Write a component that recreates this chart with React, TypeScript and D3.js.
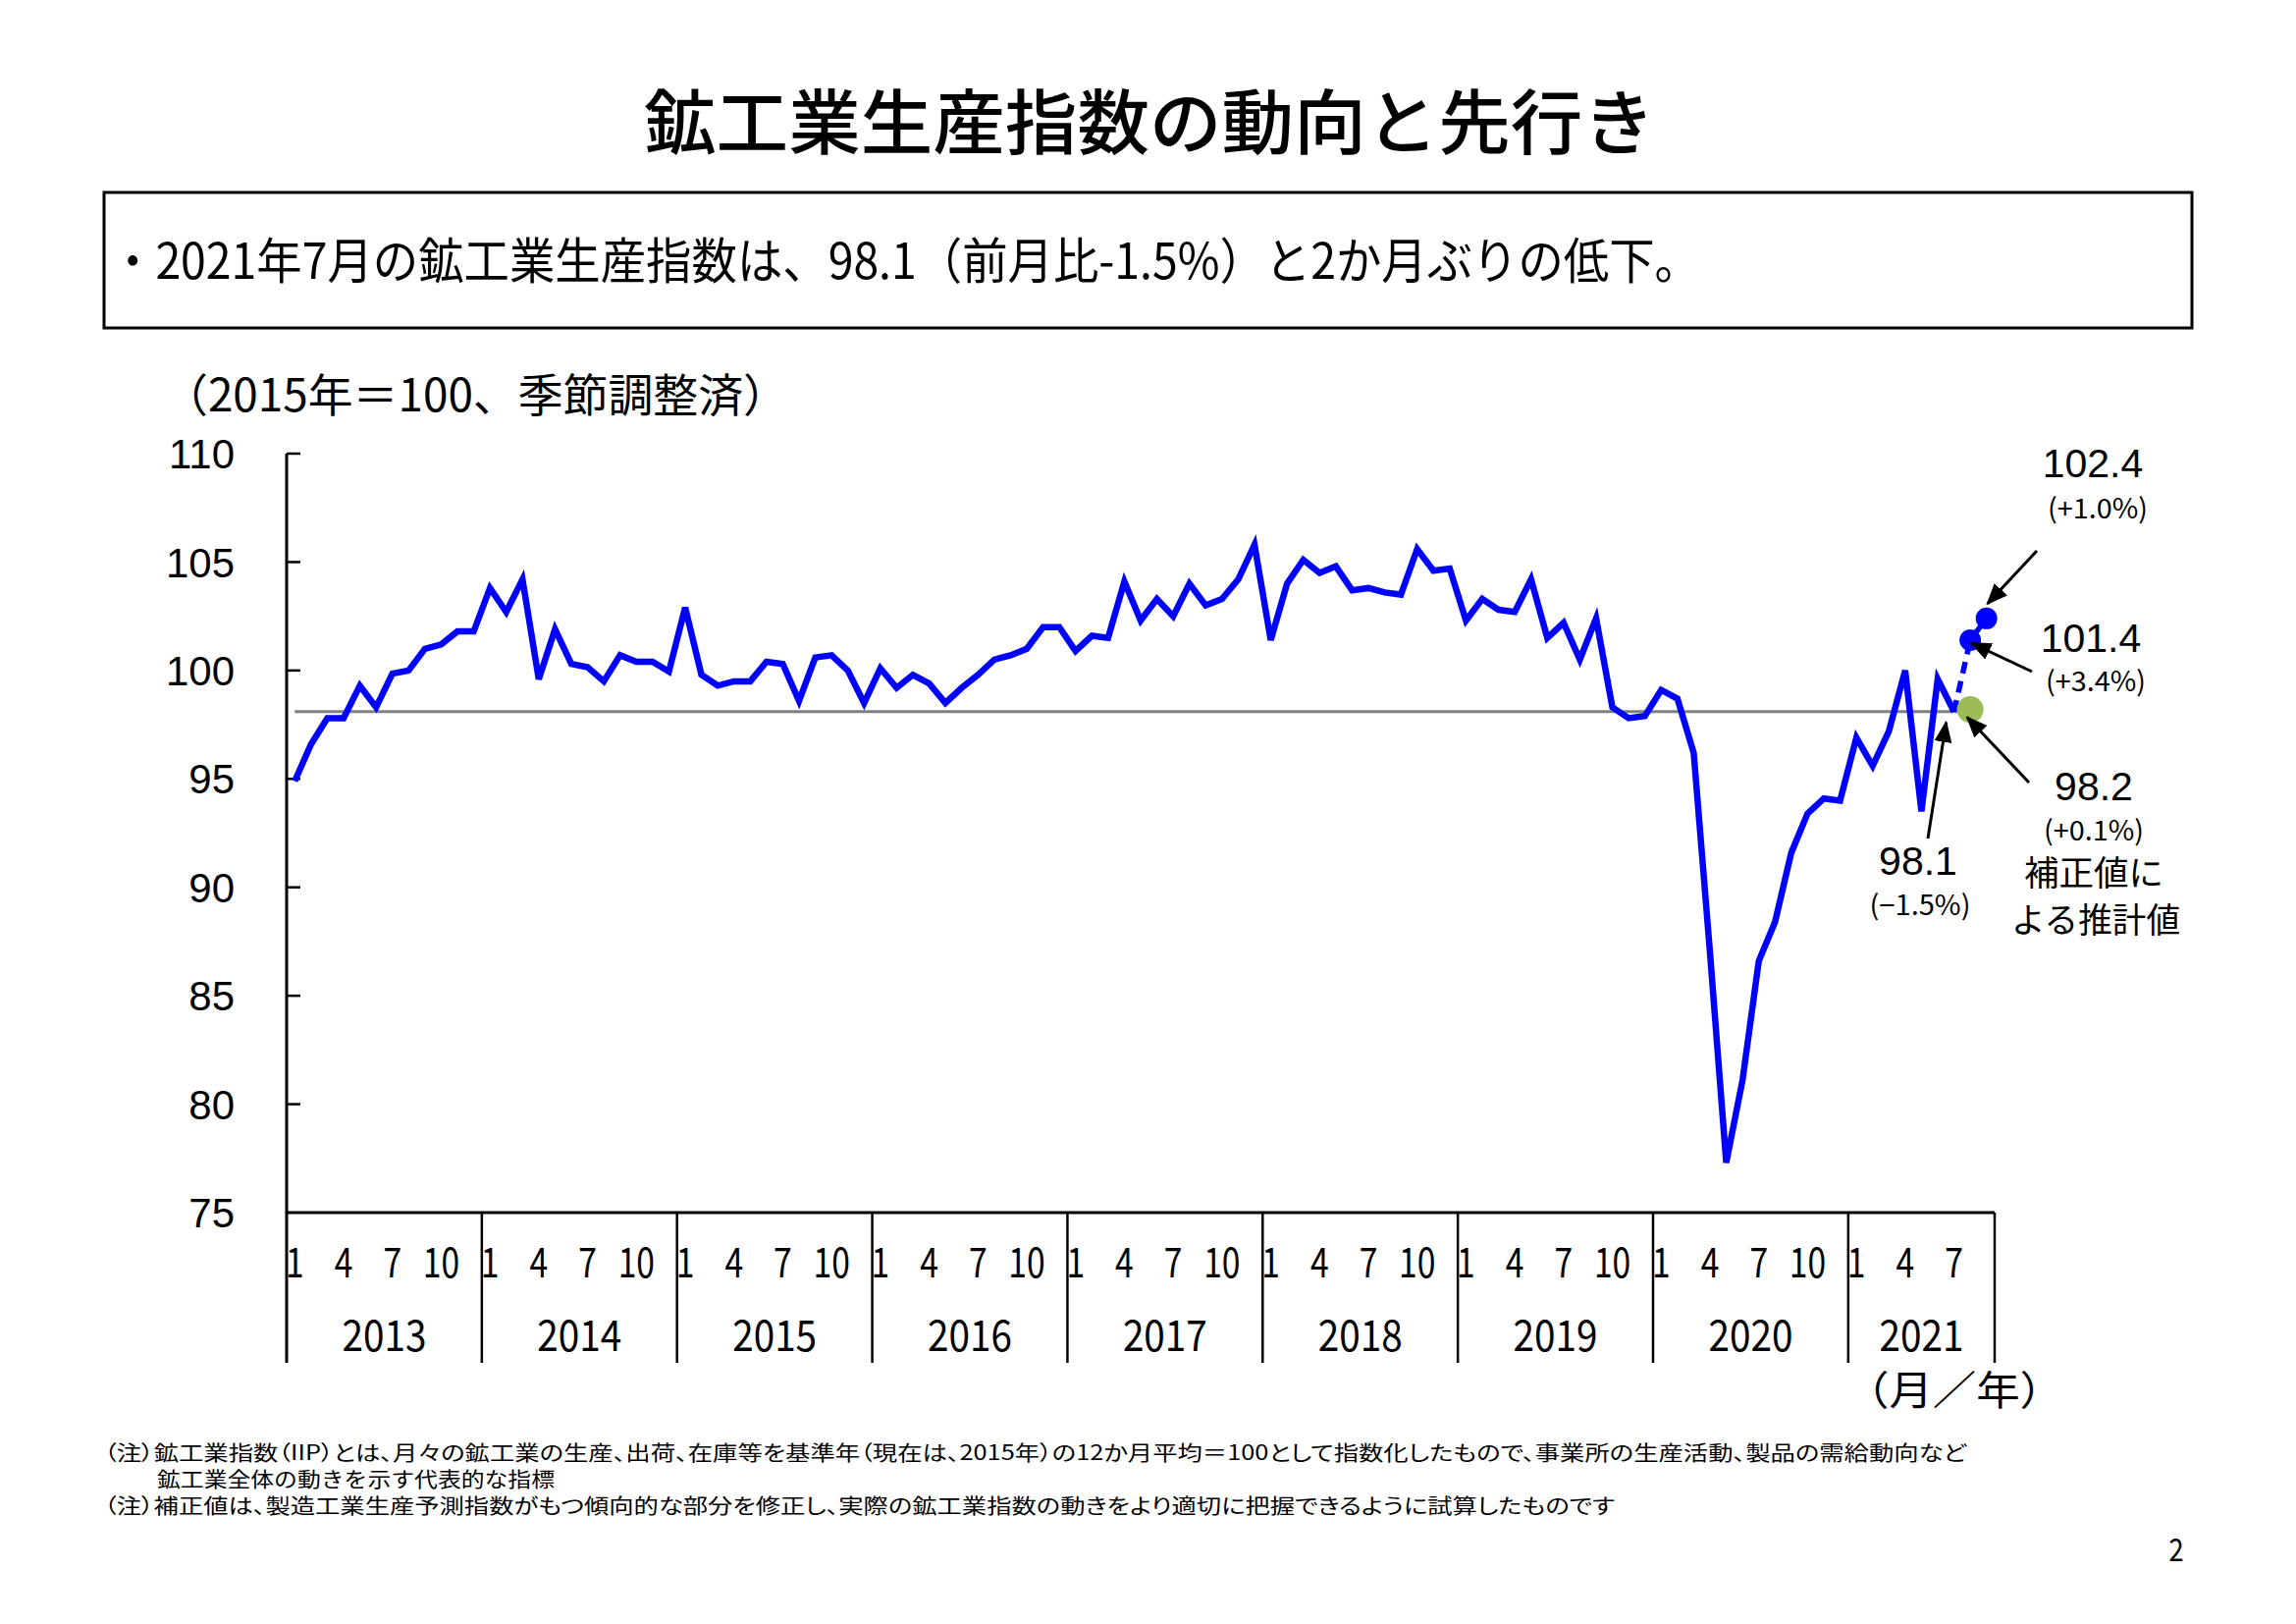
import React from "react";
import * as d3 from "d3";

// ---- data ----
const years = [2013, 2014, 2015, 2016, 2017, 2018, 2019, 2020, 2021];
const lastYearMonthsOnAxis = 9; // axis runs through Sep 2021
const monthTickLabels = [1, 4, 7, 10];

const iip2013 = [94.9, 96.6, 97.8, 97.8, 99.3, 98.3, 99.85, 100.0, 101.0, 101.2, 101.8, 101.8];
const iip2014 = [103.8, 102.7, 104.2, 99.6, 101.9, 100.3, 100.15, 99.5, 100.7, 100.4, 100.4, 99.95];
const iip2015 = [102.9, 99.8, 99.3, 99.5, 99.5, 100.4, 100.3, 98.6, 100.6, 100.7, 100.0, 98.5];
const iip2016 = [100.1, 99.2, 99.8, 99.4, 98.5, 99.2, 99.8, 100.5, 100.7, 101.0, 102.0, 102.0];
const iip2017 = [100.9, 101.6, 101.5, 104.1, 102.3, 103.3, 102.5, 104.0, 103.0, 103.3, 104.2, 105.8];
const iip2018 = [101.4, 104.0, 105.1, 104.5, 104.8, 103.7, 103.8, 103.6, 103.5, 105.6, 104.6, 104.7];
const iip2019 = [102.3, 103.3, 102.8, 102.7, 104.2, 101.5, 102.2, 100.5, 102.4, 98.3, 97.8, 97.9];
const iip2020 = [99.1, 98.7, 96.2, 87.0, 77.3, 81.1, 86.6, 88.4, 91.6, 93.4, 94.1, 94.0];
const iip2021 = [96.9, 95.6, 97.2, 100.0, 93.5, 99.6, 98.1];

const forecastMonths = ["2021-8", "2021-9"];
const forecastValues = [101.4, 102.4];
const correctedMonth = "2021-8";
const correctedValue = 98.2;

const forecastLabels = ["101.4", "102.4"];
const forecastChanges = ["(+3.4%)", "(+1.0%)"];
const latestLabel = "98.1";
const latestChange = "(−1.5%)";
const correctedLabel = "98.2";
const correctedChange = "(+0.1%)";
const correctedNote = ["補正値に", "よる推計値"];

const yTicks = [75, 80, 85, 90, 95, 100, 105, 110];

const titleText = "鉱工業生産指数の動向と先行き";
const summaryText = "・2021年7月の鉱工業生産指数は、98.1（前月比-1.5%）と2か月ぶりの低下。";
const unitText = "（2015年＝100、季節調整済）";
const axisUnitText = "（月／年）";
const notes = [
  "（注）鉱工業指数（IIP）とは、月々の鉱工業の生産、出荷、在庫等を基準年（現在は、2015年）の12か月平均＝100として指数化したもので、事業所の生産活動、製品の需給動向など",
  "鉱工業全体の動きを示す代表的な指標",
  "（注）補正値は、製造工業生産予測指数がもつ傾向的な部分を修正し、実際の鉱工業指数の動きをより適切に把握できるように試算したものです",
];

// ---- derived ----
const yearSeries = [iip2013, iip2014, iip2015, iip2016, iip2017, iip2018, iip2019, iip2020, iip2021];
const categories: string[] = [];
years.forEach((yr, i) => {
  const n = i === years.length - 1 ? lastYearMonthsOnAxis : 12;
  for (let m = 1; m <= n; m++) categories.push(`${yr}-${m}`);
});
const actual: { key: string; v: number }[] = [];
years.forEach((yr, i) => yearSeries[i].forEach((v, j) => actual.push({ key: `${yr}-${j + 1}`, v })));
const latest = actual[actual.length - 1];

const JP = "'Noto Sans CJK JP', sans-serif";
const AR = "'Liberation Sans', Arial, sans-serif";
const PALT = { fontFeatureSettings: '"palt"' };

function CText(props: any) {
  const { x, y, sx = 1, anchor = "start", size, family = JP, weight = 400, children, fill = "#000" } = props;
  return (
    <text
      transform={`translate(${x},${y}) scale(${sx},1)`}
      textAnchor={anchor}
      fontSize={size}
      fontFamily={family}
      fontWeight={weight}
      fill={fill}
      style={PALT}
    >
      {children}
    </text>
  );
}

export default function App() {
  const W = 2339, H = 1654;
  const left = 292, right = 2032, top = 462, bottom = 1235, sepBottom = 1388;
  const x = d3.scaleBand<string>().domain(categories).range([left, right]).padding(0);
  const y = d3.scaleLinear().domain([75, 110]).range([bottom, top]);
  const cx = (k: string) => (x(k) as number) + x.bandwidth() / 2;

  const line = d3.line<{ key: string; v: number }>().x((d) => cx(d.key)).y((d) => y(d.v));
  const dashed = [latest, ...forecastMonths.map((k, i) => ({ key: k, v: forecastValues[i] }))];

  const pLatest = [cx(latest.key), y(latest.v)];
  const pAug = [cx(forecastMonths[0]), y(forecastValues[0])];
  const pSep = [cx(forecastMonths[1]), y(forecastValues[1])];
  const pCor = [cx(correctedMonth), y(correctedValue)];

  const arrows = [
    { from: [2075, 561], to: [pSep[0] + 1, pSep[1] - 15] },
    { from: [2070, 684], to: [pAug[0] + 1, pAug[1] + 3] },
    { from: [2067, 797], to: [pCor[0] - 3, pCor[1] + 8] },
    { from: [1964, 854], to: [pLatest[0] - 8, pLatest[1] + 11] },
  ];

  const subProps = { textAnchor: "middle" as const, fontSize: 28, fontFamily: JP, textLength: 102, lengthAdjust: "spacingAndGlyphs" };

  return (
    <svg
      width={W}
      height={H}
      viewBox={`0 0 ${W} ${H}`}
      style={{ position: "absolute", left: 0, top: 0, background: "#fff" }}
    >
      <defs>
        <marker id="ah" markerUnits="userSpaceOnUse" markerWidth={22} markerHeight={18} refX={20} refY={9} orient="auto">
          <path d="M0,0 L22,9 L0,18 Z" fill="#000" />
        </marker>
      </defs>
      <rect x={0} y={0} width={W} height={H} fill="#fff" />

      {/* title */}
      <text x={656} y={151} fontSize={72} fontFamily={JP} fontWeight={500} textLength={1030} lengthAdjust="spacingAndGlyphs">
        {titleText}
      </text>

      {/* summary box */}
      <rect x={106} y={196} width={2127} height={138} fill="none" stroke="#000" strokeWidth={3} />
      <text x={112} y={284} fontSize={50} fontFamily={JP} textLength={1620} lengthAdjust="spacingAndGlyphs">
        {summaryText}
      </text>

      {/* unit */}
      <text x={166} y={419} fontSize={46} fontFamily={JP} textLength={637} lengthAdjust="spacingAndGlyphs">
        {unitText}
      </text>

      {/* y ticks and labels */}
      {yTicks.map((t) => (
        <g key={t}>
          {t > 75 && <line x1={left} x2={left + 14} y1={y(t)} y2={y(t)} stroke="#000" strokeWidth={2.5} />}
          <text x={239} y={y(t)} dy="0.36em" textAnchor="end" fontSize={42} fontFamily={AR}>
            {t}
          </text>
        </g>
      ))}

      {/* axes */}
      <line x1={left} x2={left} y1={top} y2={sepBottom} stroke="#000" strokeWidth={3} />
      <line x1={left} x2={right} y1={bottom} y2={bottom} stroke="#000" strokeWidth={3} />
      <line x1={right} x2={right} y1={bottom} y2={sepBottom} stroke="#000" strokeWidth={2.5} />
      {years.slice(1).map((yr) => (
        <line key={yr} x1={x(`${yr}-1`)} x2={x(`${yr}-1`)} y1={bottom} y2={sepBottom} stroke="#000" strokeWidth={2.5} />
      ))}

      {/* month labels */}
      {categories
        .filter((k) => monthTickLabels.includes(+k.split("-")[1]))
        .map((k) => (
          <CText key={k} x={cx(k)} y={1301} sx={0.8} anchor="middle" size={42}>
            {k.split("-")[1]}
          </CText>
        ))}
      {/* year labels */}
      {years.map((yr, i) => {
        const x0 = x(`${yr}-1`) as number;
        const x1 = i === years.length - 1 ? right : (x(`${years[i + 1]}-1`) as number);
        return (
          <CText key={yr} x={(x0 + x1) / 2} y={1376} sx={0.88} anchor="middle" size={44}>
            {yr}
          </CText>
        );
      })}
      <text x={1880} y={1431} fontSize={41} fontFamily={JP} textLength={222} lengthAdjust="spacingAndGlyphs">
        {axisUnitText}
      </text>

      {/* reference line at latest value */}
      <line x1={cx(categories[0])} x2={pCor[0]} y1={y(latest.v)} y2={y(latest.v)} stroke="#808080" strokeWidth={3} />

      {/* main series */}
      <path d={line(actual) as string} fill="none" stroke="#0000FF" strokeWidth={6.5} strokeLinejoin="miter" />
      <path d={line(dashed) as string} fill="none" stroke="#0000FF" strokeWidth={5.5} strokeDasharray="12,8" />

      {/* dots */}
      <circle cx={pCor[0]} cy={pCor[1]} r={13.5} fill="#9BBB59" />
      <circle cx={pAug[0]} cy={pAug[1]} r={11} fill="#0000FF" />
      <circle cx={pSep[0]} cy={pSep[1]} r={11} fill="#0000FF" />

      {/* arrows */}
      {arrows.map((a, i) => (
        <line key={i} x1={a.from[0]} y1={a.from[1]} x2={a.to[0]} y2={a.to[1]} stroke="#000" strokeWidth={3} markerEnd="url(#ah)" />
      ))}

      {/* annotations */}
      <text x={2132} y={486} textAnchor="middle" fontSize={41} fontFamily={AR}>{forecastLabels[1]}</text>
      <text x={2137} y={528} {...subProps}>{forecastChanges[1]}</text>
      <text x={2130} y={664} textAnchor="middle" fontSize={41} fontFamily={AR}>{forecastLabels[0]}</text>
      <text x={2135} y={704} {...subProps}>{forecastChanges[0]}</text>
      <text x={2133} y={815} textAnchor="middle" fontSize={41} fontFamily={AR}>{correctedLabel}</text>
      <text x={2133} y={856} {...subProps}>{correctedChange}</text>
      <text x={2133} y={902} textAnchor="middle" fontSize={35} fontFamily={JP} textLength={142} lengthAdjust="spacingAndGlyphs">{correctedNote[0]}</text>
      <text x={2135} y={950} textAnchor="middle" fontSize={35} fontFamily={JP} textLength={172} lengthAdjust="spacingAndGlyphs">{correctedNote[1]}</text>
      <text x={1954} y={891} textAnchor="middle" fontSize={41} fontFamily={AR}>{latestLabel}</text>
      <text x={1956} y={932} {...subProps} textLength={103}>{latestChange}</text>

      {/* notes */}
      <text x={106} y={1487} fontSize={21} fontFamily={JP} textLength={1897} lengthAdjust="spacingAndGlyphs" style={PALT}>{notes[0]}</text>
      <text x={160} y={1514} fontSize={21} fontFamily={JP} textLength={405} lengthAdjust="spacingAndGlyphs">{notes[1]}</text>
      <text x={106} y={1541} fontSize={21} fontFamily={JP} textLength={1539} lengthAdjust="spacingAndGlyphs" style={PALT}>{notes[2]}</text>

      {/* page number */}
      <CText x={2217} y={1590} anchor="middle" size={32} sx={0.85}>2</CText>
    </svg>
  );
}
